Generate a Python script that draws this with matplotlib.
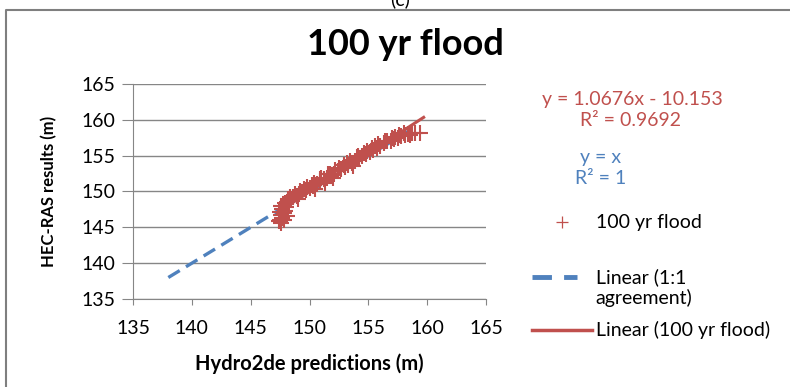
import matplotlib
matplotlib.use("Agg")
import matplotlib.pyplot as plt
from matplotlib.lines import Line2D

plt.rcParams['font.family'] = ['Lato', 'DejaVu Sans']

RED = '#C0504D'
BLUE = '#4F81BD'
GRID = '#868686'

# 100 yr flood points
flood_x = [147.6, 147.5, 147.7, 147.6, 147.8, 147.5, 147.9, 147.7, 148.0, 147.6,
           148.0, 148.1, 147.9, 148.2, 148.4, 148.3, 148.6, 148.9, 149.1, 149.4,
           149.2, 149.7, 150.0, 149.8, 150.3, 150.6, 150.4, 150.9, 151.2, 151.0,
           151.5, 151.8, 151.6, 152.1, 152.4, 152.2, 152.7, 153.0, 152.9, 153.3,
           153.6, 153.4, 153.9, 154.2, 154.0, 154.5, 154.8, 154.6, 155.1, 155.4,
           155.3, 155.7, 156.0, 155.8, 156.3, 156.6, 156.9, 157.2, 157.0, 157.5,
           157.8, 157.6, 158.1, 158.4, 158.7, 159.0, 159.4, 157.3, 158.0, 158.5,
           148.2, 148.8, 149.5, 150.2, 150.9, 151.7, 152.5, 153.2, 154.1, 154.9,
           155.6, 156.4, 147.4, 147.8, 148.1, 149.0, 150.5, 151.3, 152.0, 153.7]
flood_y = [145.6, 146.0, 146.3, 146.7, 147.0, 147.2, 147.3, 147.6, 147.9, 148.0,
           148.2, 148.5, 148.4, 148.7, 148.9, 149.2, 149.2, 149.4, 149.6, 149.9,
           150.0, 150.2, 150.5, 150.6, 150.8, 151.1, 151.2, 151.4, 151.7, 151.9,
           151.9, 152.2, 152.4, 152.5, 152.8, 153.0, 153.1, 153.4, 153.7, 153.7,
           154.0, 154.2, 154.3, 154.6, 154.8, 154.9, 155.2, 155.4, 155.5, 155.8,
           156.0, 156.1, 156.4, 156.6, 156.7, 157.0, 157.1, 157.3, 157.5, 157.5,
           157.7, 157.9, 157.9, 158.0, 158.1, 158.2, 158.2, 157.6, 158.2, 157.9,
           148.9, 149.6, 150.3, 150.9, 151.7, 152.5, 153.3, 154.0, 154.9, 155.6,
           156.3, 157.0, 145.9, 146.0, 146.6, 149.0, 150.4, 151.2, 151.9, 153.5]

# trendline and 1:1 line
slope, intercept = 1.0676, -10.153
fit_x = [147.4, 159.7]
one_x = [138.0, 159.0]

fig = plt.figure(figsize=(7.9, 3.87), dpi=100)
ax = fig.add_axes([0.1684, 0.2274, 0.4468, 0.5556])

ax.plot(one_x, one_x, color=BLUE, lw=2.4, ls=(0, (4, 2.2)), zorder=3)
ax.plot(flood_x, flood_y, ls='none', marker='+', ms=11, mew=1.5, color=RED, zorder=4)
ax.plot(fit_x, [slope * v + intercept for v in fit_x], color=RED, lw=2.2, zorder=5)

ax.set_xlim(135, 165)
ax.set_ylim(135, 165)
ax.set_xticks(range(135, 166, 5))
ax.set_yticks(range(135, 166, 5))
ax.yaxis.grid(True, color=GRID, lw=1)
ax.set_axisbelow(True)
for s in ['top', 'right']:
    ax.spines[s].set_visible(False)
for s in ['left', 'bottom']:
    ax.spines[s].set_color(GRID)
ax.tick_params(axis='y', direction='out', length=8, color=GRID, labelsize=14, pad=5)
ax.tick_params(axis='x', direction='out', length=4, color=GRID, labelsize=14, pad=11)

ax.set_xlabel('Hydro2de predictions (m)', fontsize=14.5, fontweight='bold', labelpad=12)
ax.set_ylabel('HEC-RAS results (m)', fontsize=12, fontweight='bold', labelpad=17)
fig.text(0.513, 0.884, '100 yr flood', fontsize=26, fontweight='bold', ha='center', va='center')
fig.text(0.506, 1.003, '(c)', fontsize=14, ha='center', va='center')

# equations
fig.text(0.801, 0.742, 'y = 1.0676x - 10.153', color=RED, fontsize=14, ha='center', va='center')
fig.text(0.798, 0.688, 'R² = 0.9692', color=RED, fontsize=14, ha='center', va='center')
fig.text(0.760, 0.594, 'y = x', color=BLUE, fontsize=14, ha='center', va='center')
fig.text(0.760, 0.540, 'R² = 1', color=BLUE, fontsize=14, ha='center', va='center')

# legend drawn manually on the right
fig.add_artist(Line2D([0.711], [0.426], marker='+', ms=9, mew=0.9, color=RED, transform=fig.transFigure))
fig.text(0.754, 0.426, '100 yr flood', fontsize=14, va='center')
fig.add_artist(Line2D([0.673, 0.731], [0.284, 0.284], color=BLUE, lw=3.5, ls=(0, (4, 2.5)),
                      transform=fig.transFigure))
fig.text(0.754, 0.284, 'Linear (1:1', fontsize=14, va='center')
fig.text(0.754, 0.230, 'agreement)', fontsize=14, va='center')
fig.add_artist(Line2D([0.673, 0.749], [0.147, 0.147], color=RED, lw=2.5, transform=fig.transFigure))
fig.text(0.754, 0.147, 'Linear (100 yr flood)', fontsize=14, va='center')

# outer frame (left and top edges show)
fig.add_artist(Line2D([0.0075, 0.0075, 1.0], [0.0, 0.975, 0.975], color='#7f7f7f', lw=1.5,
                      transform=fig.transFigure))

fig.savefig('out.png', dpi=100)
